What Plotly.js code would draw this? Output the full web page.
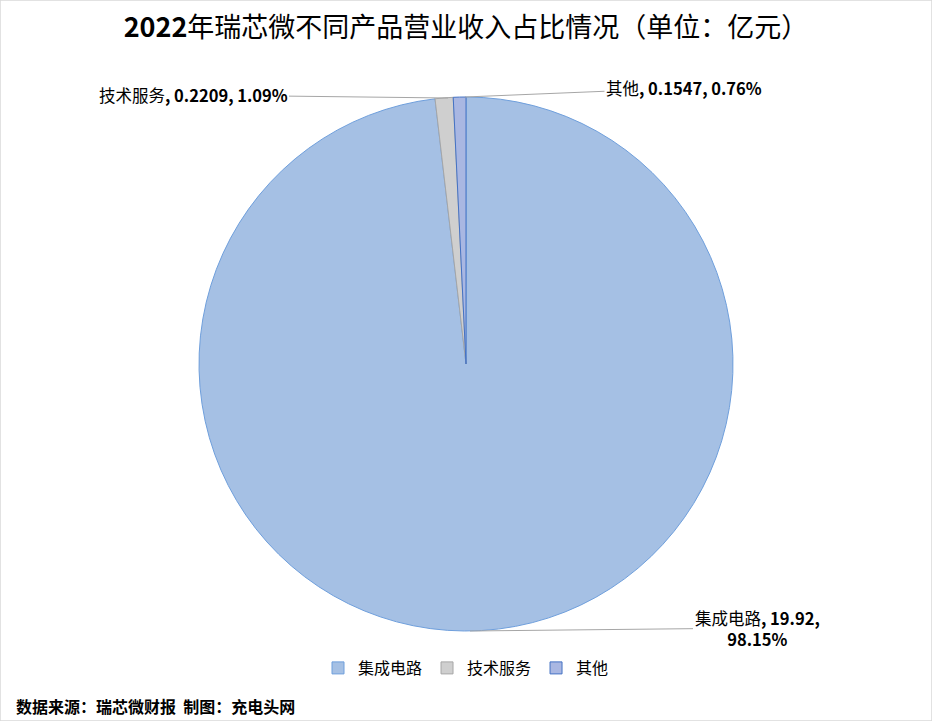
<!DOCTYPE html>
<html>
<head>
<meta charset="utf-8">
<script src="https://cdn.plot.ly/plotly-3.0.1.min.js"></script>
<style>html,body{margin:0;padding:0;background:#fff;}#chart{width:932px;height:721px;}</style>
</head>
<body>
<div id="chart"></div>
<script>
const categories = ['集成电路', '技术服务', '其他'];
const values = [19.92, 0.2209, 0.1547];
const valueLabels = ['19.92', '0.2209', '0.1547'];
const sliceColors = ['#a5c0e4', '#cfcfcf', '#a9b7e2'];
const lineColors = ['#6f9fdc', '#a6a6a6', '#4472c4'];
const titleText = '<b>2022</b>年瑞芯微不同产品营业收入占比情况（单位：亿元）';
const sourceText = '数据来源：瑞芯微财报  制图：充电头网';

const W = 932, H = 721;
const px = x => x / W;
const py = y => 1 - y / H;

const total = values.reduce((a, b) => a + b, 0);
const pct = values.map(v => (v / total * 100).toFixed(2) + '%');

// label placement (layout only)
const labelPos = [
  {tip: [470, 631], ax: 287, ay: -3, br: true},
  {tip: [448, 98], ax: -255, ay: -3, br: false},
  {tip: [465, 97], ax: 219, ay: -9, br: false}
];

const annotations = categories.map((c, i) => {
  const p = labelPos[i];
  const sep = p.br ? ',<br>' : ', ';
  return {
    x: px(p.tip[0]), y: py(p.tip[1]), xref: 'paper', yref: 'paper',
    text: c + '<b>, ' + valueLabels[i] + sep + pct[i] + '</b>',
    showarrow: true, arrowhead: 0, arrowwidth: 1, arrowcolor: '#a6a6a6',
    ax: p.ax, ay: p.ay, standoff: 0,
    font: {size: 16.5, color: '#000'}, align: 'center'
  };
});

annotations.push({
  x: px(14), y: py(706), xref: 'paper', yref: 'paper', xanchor: 'left', yanchor: 'middle',
  text: '<b>' + sourceText + '</b>', showarrow: false,
  font: {size: 16, color: '#000'}
});

const data = [{
  type: 'pie',
  labels: categories,
  values: values,
  sort: false,
  direction: 'clockwise',
  rotation: 0,
  textinfo: 'none',
  hoverinfo: 'label+value+percent',
  marker: {colors: sliceColors, line: {color: lineColors, width: 1}},
  domain: {x: [px(466 - 267), px(466 + 267)], y: [py(631), py(97)]}
}];

const layout = {
  width: W, height: H,
  margin: {l: 0, r: 0, t: 0, b: 0},
  paper_bgcolor: '#fff',
  font: {family: '"Noto Sans CJK SC", "Noto Sans", sans-serif', color: '#000'},
  title: {text: titleText, x: 0.5, xanchor: 'center', y: py(28), yanchor: 'middle',
          font: {size: 27, color: '#000'}},
  showlegend: true,
  legend: {orientation: 'h', x: 0.5, xanchor: 'center', y: py(668), yanchor: 'middle',
           font: {size: 16, color: '#000'}, itemwidth: 30, tracegroupgap: 0},
  annotations: annotations,
  shapes: [{type: 'rect', xref: 'paper', yref: 'paper', x0: 0, y0: 0, x1: 1, y1: 1,
            line: {color: '#d9d9d9', width: 1.5}}]
};

Plotly.newPlot('chart', data, layout, {displayModeBar: false, staticPlot: true});
</script>
</body>
</html>
